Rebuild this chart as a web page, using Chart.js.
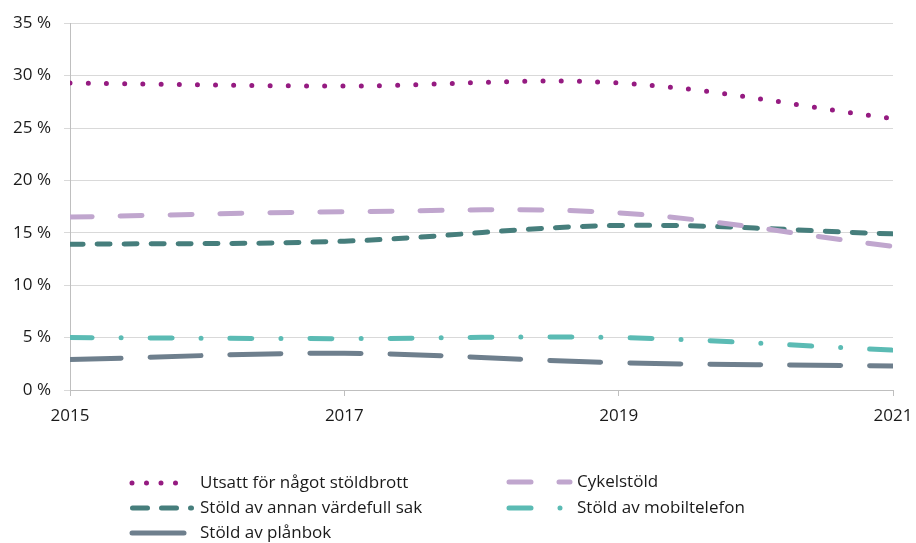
<!DOCTYPE html>
<html><head><meta charset="utf-8">
<script src="https://cdn.jsdelivr.net/npm/chart.js@4/dist/chart.umd.min.js"></script>
<style>html,body{margin:0;padding:0;background:#fff}#w{width:916px;height:543px}</style>
</head><body><div id="w"><canvas id="c" width="916" height="543"></canvas></div>
<script>
const years = [2015, 2017, 2019, 2021];
const xTicks = [2015, 2017, 2019, 2021];
const yTicks = [0, 5, 10, 15, 20, 25, 30, 35];
const seriesNames = ["Utsatt för något stöldbrott", "Cykelstöld", "Stöld av annan värdefull sak", "Stöld av mobiltelefon", "Stöld av plånbok"];
const utsatt = [29.3, 29.0, 29.3, 25.9];
const cykel = [16.5, 17.0, 16.9, 13.7];
const annan = [13.9, 14.2, 15.7, 14.9];
const mobil = [5.0, 4.9, 5.0, 3.8];
const planbok = [2.9, 3.5, 2.6, 2.3];

const FONT = "'Open Sans', 'Noto Sans', sans-serif";
const styles = [
  {color:'#951B81', dash:[0,18.2], legDash:[0,14.5], width:5},
  {color:'#C0A6CE', dash:[22,28], legDash:[22,28], width:5},
  {color:'#467E7C', dash:[13,14], legDash:[15,14], width:5},
  {color:'#5BBBB4', dash:[22,29,0,29], legDash:[22,29,0,29], width:5},
  {color:'#6E7F8D', dash:[51,29], legDash:[52,29], width:5}
];
const values = [utsatt, cykel, annan, mobil, planbok];
const datasets = values.map((v,i)=>({
  label: seriesNames[i],
  data: years.map((y,j)=>({x:y, y:v[j]})),
  borderColor: styles[i].color,
  borderWidth: styles[i].width,
  borderDash: styles[i].dash,
  borderCapStyle: 'round',
  pointRadius: 0,
  tension: 0.35,
  fill: false
}));

const legendPlugin = {
  id:'customLegend',
  afterDraw(chart){
    const ctx = chart.ctx;
    const items = [
      {i:0, x:132, x2:190, tx:200, y:483},
      {i:1, x:509, x2:570, tx:577, y:482},
      {i:2, x:132.5, x2:191.5, tx:200, y:508},
      {i:3, x:509, x2:570, tx:577, y:508},
      {i:4, x:132, x2:184, tx:200, y:533}
    ];
    ctx.save();
    items.forEach(it=>{
      const s = styles[it.i];
      ctx.beginPath();
      ctx.strokeStyle = s.color;
      ctx.lineWidth = s.width;
      ctx.lineCap = 'round';
      ctx.setLineDash(s.legDash);
      ctx.moveTo(it.x, it.y);
      ctx.lineTo(it.x2, it.y);
      ctx.stroke();
      ctx.setLineDash([]);
      ctx.fillStyle = '#1a1a1a';
      ctx.font = "17px " + FONT;
      ctx.textBaseline = 'middle';
      ctx.textAlign = 'left';
      ctx.fillText(seriesNames[it.i], it.tx, it.y);
    });
    ctx.restore();
  }
};

new Chart(document.getElementById('c'), {
  type:'line',
  data:{datasets},
  options:{
    responsive:false,
    animation:false,
    layout:{padding:{top:14, right:23, left:0, bottom:0}},
    plugins:{legend:{display:false}, tooltip:{enabled:false}},
    scales:{
      x:{
        type:'linear', min:2015, max:2021,
        afterBuildTicks(axis){ axis.ticks = xTicks.map(v=>({value:v})); },
        afterFit(axis){ axis.height = 153; axis.paddingLeft = 0; axis.paddingRight = 0; },
        ticks:{callback:v=>String(v), color:'#1a1a1a', font:{family:FONT, size:17}, padding:10, maxRotation:0},
        grid:{drawOnChartArea:false, drawTicks:true, tickLength:6, color:'#bfbfbf'},
        border:{display:true, color:'#bfbfbf', width:1}
      },
      y:{
        min:0, max:35,
        afterBuildTicks(axis){ axis.ticks = yTicks.map(v=>({value:v})); },
        afterFit(axis){ axis.width = 70; },
        ticks:{callback:v=>v+' %', color:'#1a1a1a', font:{family:FONT, size:17}, padding:13},
        grid:{color:'#d9d9d9', lineWidth:1, drawTicks:true, tickLength:6},
        border:{display:true, color:'#bfbfbf', width:1}
      }
    }
  },
  plugins:[legendPlugin]
});
</script>
</body></html>
